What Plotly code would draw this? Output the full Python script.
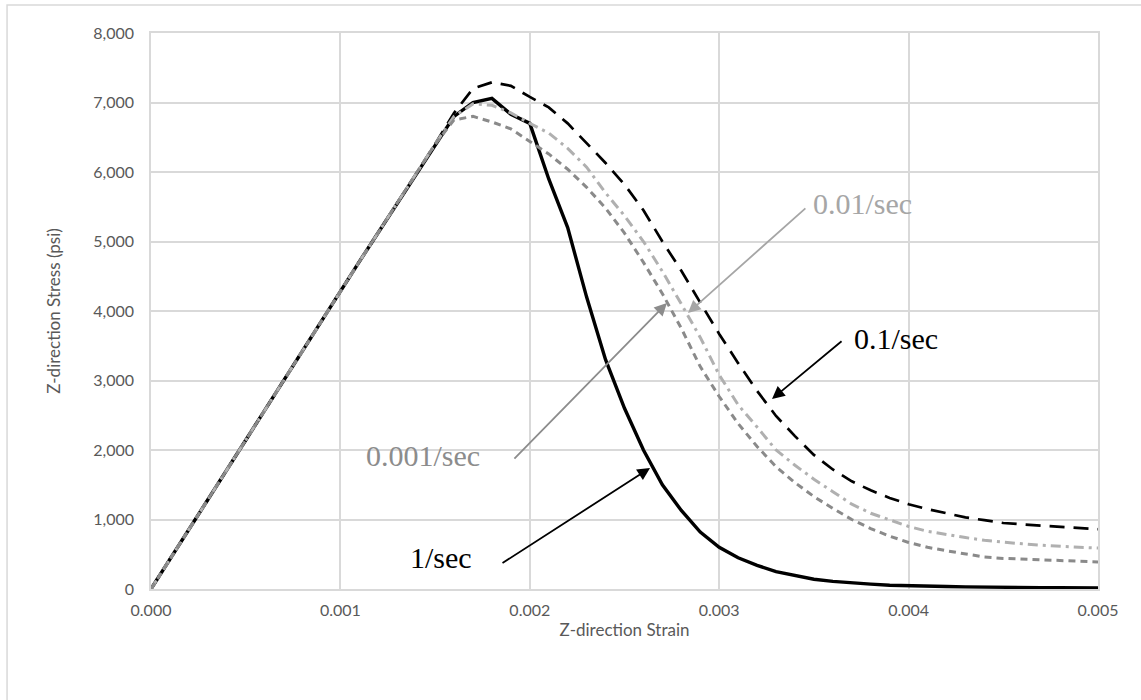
import plotly.graph_objects as go

strain = [round(i * 0.0001, 4) for i in range(51)]

rise = [0, 430, 860, 1290, 1720, 2150, 2580, 3000, 3430, 3860, 4290,
        4710, 5130, 5550, 5970, 6400]

stress_1 = rise + [6800, 7000, 7060, 6830, 6700, 5900, 5200, 4200, 3300, 2600,
                   2000, 1500, 1130, 820, 600, 450, 340, 250, 190, 140,
                   110, 85, 70, 55, 45, 40, 35, 30, 25, 22,
                   20, 20, 18, 18, 15]
stress_01 = rise + [6850, 7200, 7290, 7240, 7080, 6930, 6700, 6420, 6130, 5820,
                    5450, 5000, 4580, 4120, 3670, 3250, 2850, 2490, 2200, 1930,
                    1720, 1550, 1420, 1310, 1220, 1150, 1090, 1030, 990, 950,
                    930, 910, 890, 870, 860]
stress_001 = rise + [6800, 6980, 6960, 6850, 6700, 6560, 6340, 6070, 5700, 5370,
                     5000, 4570, 4100, 3620, 3080, 2650, 2330, 2000, 1780, 1580,
                     1400, 1220, 1090, 990, 900, 830, 780, 740, 700, 670,
                     650, 630, 610, 600, 590]
stress_0001 = rise + [6750, 6800, 6720, 6620, 6440, 6260, 6040, 5780, 5480, 5120,
                      4700, 4250, 3750, 3200, 2770, 2380, 2050, 1760, 1530, 1330,
                      1160, 1000, 870, 760, 670, 600, 550, 500, 460, 440,
                      430, 420, 410, 400, 390]

labels = ["1/sec", "0.1/sec", "0.01/sec", "0.001/sec"]
x_ticks = [0.0, 0.001, 0.002, 0.003, 0.004, 0.005]
y_ticks = [0, 1000, 2000, 3000, 4000, 5000, 6000, 7000, 8000]

fig = go.Figure()
fig.add_trace(go.Scatter(x=strain, y=stress_1, mode="lines", name=labels[0],
                         line=dict(color="#000000", width=3.4)))
fig.add_trace(go.Scatter(x=strain, y=stress_01, mode="lines", name=labels[1],
                         line=dict(color="#000000", width=2.7, dash="15px,9px")))
fig.add_trace(go.Scatter(x=strain, y=stress_001, mode="lines", name=labels[2],
                         line=dict(color="#b0b0b0", width=3, dash="10px,5px,3px,5px")))
fig.add_trace(go.Scatter(x=strain, y=stress_0001, mode="lines", name=labels[3],
                         line=dict(color="#8a8a8a", width=3, dash="7px,5px")))

serif = "Liberation Serif, Times New Roman, serif"

# arrows: (tail_x, tail_y, tip_x, tip_y, color)
arrows = [
    (0.003463, 5496, 0.002835, 3971, "#a6a6a6"),
    (0.003654, 3583, 0.003279, 2734, "#000000"),
    (0.001911, 1856, 0.002724, 4115, "#8c8c8c"),
    (0.001848, 360, 0.002635, 1741, "#000000"),
]
for tx, ty, hx, hy, c in arrows:
    fig.add_annotation(x=hx, y=hy, ax=tx, ay=ty, xref="x", yref="y",
                       axref="x", ayref="y", text="", showarrow=True,
                       arrowhead=2, arrowsize=1.4, arrowwidth=1.8, arrowcolor=c,
                       standoff=0, startstandoff=0)

texts = [
    (labels[2], 0.003485, 5540, "left", "#a6a6a6"),
    (labels[1], 0.003700, 3610, "left", "#000000"),
    (labels[3], 0.001745, 1920, "right", "#8c8c8c"),
    (labels[0], 0.001705, 460, "right", "#000000"),
]
for t, x, y, anc, c in texts:
    fig.add_annotation(x=x, y=y, xref="x", yref="y", text=t, showarrow=False,
                       xanchor=anc, yanchor="middle",
                       font=dict(family=serif, size=30, color=c))

# outer chart border
fig.add_shape(type="rect", xref="paper", yref="paper",
              x0=-0.152, x1=1.2, y0=-0.25, y1=1.0504,
              line=dict(color="#d9d9d9", width=1.5), layer="below")

sans = "Lato, Open Sans, sans-serif"
axis_font = dict(family=sans, size=16, color="#595959")
fig.update_layout(
    width=1141, height=700,
    margin=dict(l=151, r=43, t=33, b=111),
    paper_bgcolor="white", plot_bgcolor="white",
    showlegend=False,
    xaxis=dict(range=[0, 0.005], tickvals=x_ticks, tickformat=".3f",
               showgrid=True, gridcolor="#d9d9d9", gridwidth=1.5,
               showline=True, linecolor="#d9d9d9", mirror=True, linewidth=1.5,
               zeroline=False, ticks="", tickfont=axis_font,
               ticklabelstandoff=6,
               title=dict(text="Z-direction Strain", font=dict(family=sans, size=17, color="#595959"),
                          standoff=6)),
    yaxis=dict(range=[0, 8000], tickvals=y_ticks, tickformat=",d",
               showgrid=True, gridcolor="#d9d9d9", gridwidth=1.5,
               showline=True, linecolor="#d9d9d9", mirror=True, linewidth=1.5,
               zeroline=False, ticks="", tickfont=axis_font,
               ticklabelstandoff=12,
               title=dict(text="Z-direction Stress (psi)", font=dict(family=sans, size=17, color="#595959"),
                          standoff=28)),
)

fig.write_html("out.html")
